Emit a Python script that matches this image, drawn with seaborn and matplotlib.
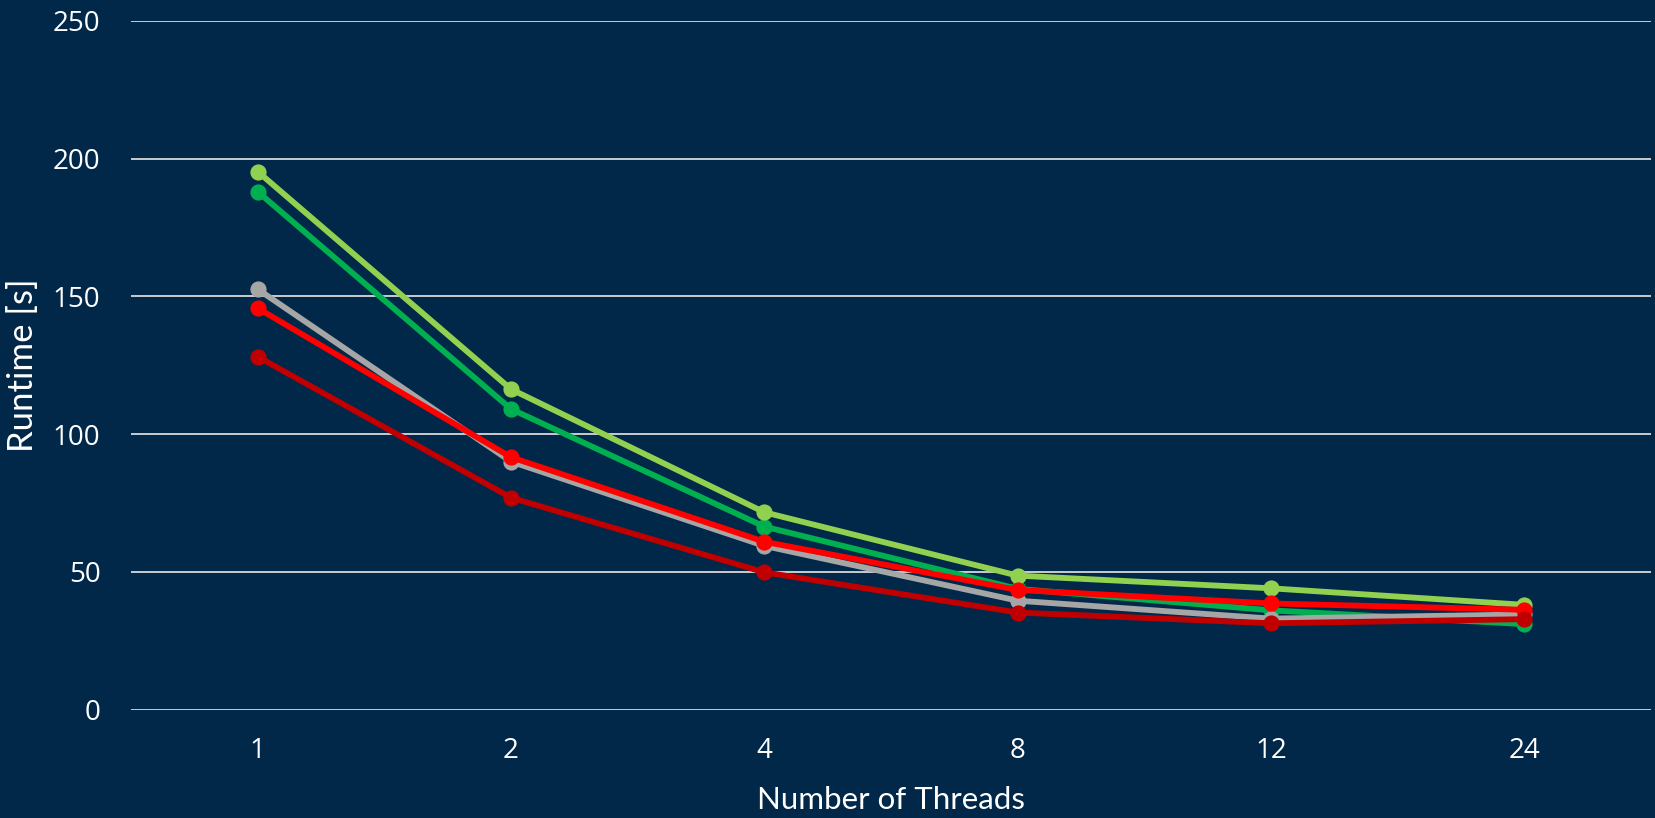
import pandas as pd
import matplotlib.pyplot as plt
import seaborn as sns

# 各設定的執行時間 (秒) vs. 執行緒數
threads = ["1", "2", "4", "8", "12", "24"]
series_names = ["A", "B", "C", "D", "E"]
light_green = [195.3, 116.3, 71.6, 48.6, 44.0, 38.0]
dark_green = [188.0, 109.1, 66.4, 43.8, 36.0, 31.0]
gray = [152.6, 90.0, 59.4, 39.5, 33.0, 34.5]
red = [145.7, 91.6, 60.9, 43.4, 38.5, 36.2]
dark_red = [128.1, 76.9, 49.8, 35.2, 31.3, 32.8]

colors = ["#00B050", "#92D050", "#A6A6A6", "#FF0000", "#C00000"]
bg = "#012848"

rows = []
for name, vals in zip(series_names, [dark_green, light_green, gray, red, dark_red]):
    for t, v in zip(threads, vals):
        rows.append({"threads": t, "runtime": v, "series": name})
df = pd.DataFrame(rows)

sns.set_style("dark")
plt.rcParams['font.family'] = ['Open Sans', 'DejaVu Sans']

fig = plt.figure(figsize=(16.55, 8.18), dpi=100, facecolor=bg)
ax = fig.add_axes([131 / 1655, 1 - 709.5 / 818, 1520 / 1655, 688.6 / 818])
ax.set_facecolor(bg)

sns.pointplot(data=df, x="threads", y="runtime", hue="series", order=threads,
              hue_order=series_names, palette=colors, markers="o", linestyles="-",
              errorbar=None, markersize=8.5, linewidth=4.2, ax=ax, legend=False)

ax.set_xlim(-0.5, 5.5)
ax.set_ylim(0, 250)
ax.set_yticks([0, 50, 100, 150, 200, 250])
ax.yaxis.grid(True, color="#D9D9D9", linewidth=1.3)
ax.xaxis.grid(False)
ax.set_axisbelow(True)
for s in ax.spines.values():
    s.set_visible(False)
for c in ax.collections:
    c.set_clip_on(False)
for l in ax.lines:
    l.set_clip_on(False)

ax.tick_params(axis="both", length=0, colors="white", labelsize=20)
ax.tick_params(axis="y", pad=22)
ax.tick_params(axis="x", pad=20)

ax.set_xlabel("Number of Threads", color="white", fontsize=22.5,
              family=["Lato", "DejaVu Sans"], va="center")
ax.set_ylabel("Runtime [s]", color="white", fontsize=25,
              family=["Lato", "DejaVu Sans"], va="center")
ax.xaxis.set_label_coords(0.5, (709.5 - 800) / 688.6)
ax.yaxis.set_label_coords((23 - 131) / 1520, 0.5)

fig.savefig("out.png", dpi=100, facecolor=bg)
